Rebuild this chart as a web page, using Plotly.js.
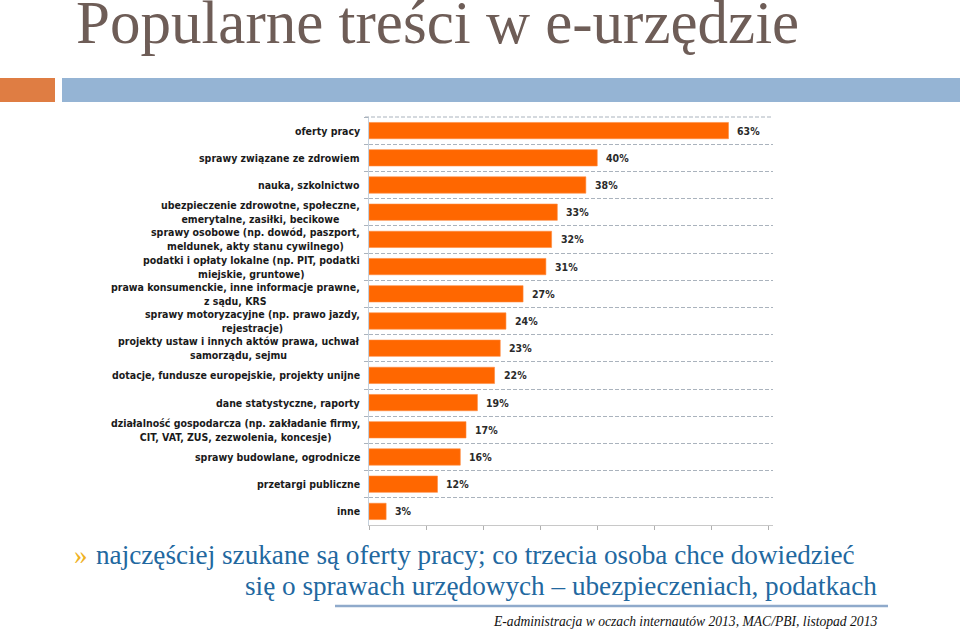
<!DOCTYPE html>
<html>
<head>
<meta charset="utf-8">
<script src="https://cdn.plot.ly/plotly-3.0.1.min.js"></script>
<style>
html,body{margin:0;padding:0;background:#fff;}
#chart{width:960px;height:630px;}
</style>
</head>
<body>
<div id="chart"></div>
<script>
const categories = [
  "oferty pracy",
  "sprawy związane ze zdrowiem",
  "nauka, szkolnictwo",
  "ubezpieczenie zdrowotne, społeczne,<br>emerytalne, zasiłki, becikowe",
  "sprawy osobowe (np. dowód, paszport,<br>meldunek, akty stanu cywilnego)",
  "podatki i opłaty lokalne (np. PIT, podatki<br>miejskie, gruntowe)",
  "prawa konsumenckie, inne informacje prawne,<br>z sądu, KRS",
  "sprawy motoryzacyjne (np. prawo jazdy,<br>rejestracje)",
  "projekty ustaw i innych aktów prawa, uchwał<br>samorządu, sejmu",
  "dotacje, fundusze europejskie, projekty unijne",
  "dane statystyczne, raporty",
  "działalność gospodarcza (np. zakładanie firmy,<br>CIT, VAT, ZUS, zezwolenia, koncesje)",
  "sprawy budowlane, ogrodnicze",
  "przetargi publiczne",
  "inne"
];
const values = [63, 40, 38, 33, 32, 31, 27, 24, 23, 22, 19, 17, 16, 12, 3];
const xTicks = [0, 10, 20, 30, 40, 50, 60, 70];

const titleText = "Popularne treści w e-urzędzie";
const bulletLine1 = "najczęściej szukane są oferty pracy; co trzecia osoba chce dowiedzieć";
const bulletLine2 = "się o sprawach urzędowych – ubezpieczeniach, podatkach";
const sourceText = "E-administracja w oczach internautów 2013, MAC/PBI, listopad 2013";

// plot area geometry (pixels)
const W = 960, H = 630;
const L = 369, R = 773, T = 117, B = 525;
const fx = px => (px - L) / (R - L);
const fy = py => (B - py) / (B - T);

const labelFont = {family: "DejaVu Sans Condensed, DejaVu Sans, sans-serif", size: 10.5, color: "#1a1a1a", weight: "bold"};
const serif = "Liberation Serif, DejaVu Serif, serif";
const gridCol = "#aab3bd";

const annotations = [];
categories.forEach((c, i) => {
  annotations.push({
    xref: "paper", yref: "y", x: 0, y: c, xanchor: "right", yanchor: "middle",
    xshift: -7, text: c, showarrow: false, align: "center", font: labelFont
  });
  annotations.push({
    xref: "x", yref: "y", x: values[i], y: c, xanchor: "left", yanchor: "middle",
    xshift: 7, text: values[i] + "%", showarrow: false,
    font: {family: "DejaVu Sans Condensed, DejaVu Sans, sans-serif", size: 10.5, color: "#2a2a2a", weight: "bold"}
  });
});

annotations.push({
  xref: "paper", yref: "paper", x: fx(74), y: fy(23), xanchor: "left", yanchor: "middle",
  text: titleText, showarrow: false, font: {family: serif, size: 61, color: "#6e5d57"}
});
annotations.push({
  xref: "paper", yref: "paper", x: fx(72), y: fy(555), xanchor: "left", yanchor: "middle",
  text: "»", showarrow: false, font: {family: serif, size: 27, color: "#efb21f"}
});
annotations.push({
  xref: "paper", yref: "paper", x: fx(94), y: fy(555), xanchor: "left", yanchor: "middle",
  text: bulletLine1, showarrow: false, font: {family: serif, size: 27.2, color: "#22689f"}
});
annotations.push({
  xref: "paper", yref: "paper", x: fx(879), y: fy(586), xanchor: "right", yanchor: "middle",
  text: bulletLine2, showarrow: false, font: {family: serif, size: 27.2, color: "#22689f"}
});
annotations.push({
  xref: "paper", yref: "paper", x: fx(879), y: fy(621), xanchor: "right", yanchor: "middle",
  text: "<i>" + sourceText + "</i>", showarrow: false, font: {family: serif, size: 13.6, color: "#111"}
});

const shapes = [
  {type: "rect", xref: "paper", yref: "paper", x0: fx(0), x1: fx(55), y0: fy(78), y1: fy(102),
   fillcolor: "#df7d43", line: {width: 0}},
  {type: "rect", xref: "paper", yref: "paper", x0: fx(62), x1: fx(960), y0: fy(78), y1: fy(102),
   fillcolor: "#95b4d4", line: {width: 0}},
  {type: "line", xref: "paper", yref: "paper", x0: fx(335), x1: fx(888), y0: fy(606), y1: fy(606),
   line: {color: "#8faacb", width: 2.5}},
  {type: "line", xref: "paper", yref: "paper", x0: fx(365), x1: 1, y0: 1, y1: 1,
   line: {color: gridCol, width: 1, dash: "4px,2px"}}
];

const trace = {
  type: "bar", orientation: "h",
  x: values, y: categories,
  marker: {color: "#ff6700", line: {color: "#ff8a3d", width: 0.6}},
  hoverinfo: "x+y"
};

const layout = {
  width: W, height: H,
  margin: {l: L, r: W - R, t: T, b: H - B, pad: 0},
  paper_bgcolor: "#ffffff", plot_bgcolor: "#ffffff",
  showlegend: false,
  bargap: 0.4,
  xaxis: {
    range: [0, 70.8], tickvals: xTicks, showticklabels: false,
    ticks: "outside", ticklen: 4, tickcolor: "#b0b0b0", tickwidth: 1,
    showgrid: false, zeroline: false, showline: true, linecolor: "#c8c8c8", linewidth: 1
  },
  yaxis: {
    type: "category", autorange: "reversed", showticklabels: false,
    tickson: "boundaries", ticks: "outside", ticklen: 4, tickcolor: gridCol,
    showgrid: true, gridcolor: gridCol,
    griddash: "4px,2px", gridwidth: 1, showline: true, linecolor: "#c4d0dc", linewidth: 1,
    zeroline: false
  },
  annotations: annotations,
  shapes: shapes
};

Plotly.newPlot("chart", [trace], layout, {displayModeBar: false, staticPlot: true});
</script>
</body>
</html>
